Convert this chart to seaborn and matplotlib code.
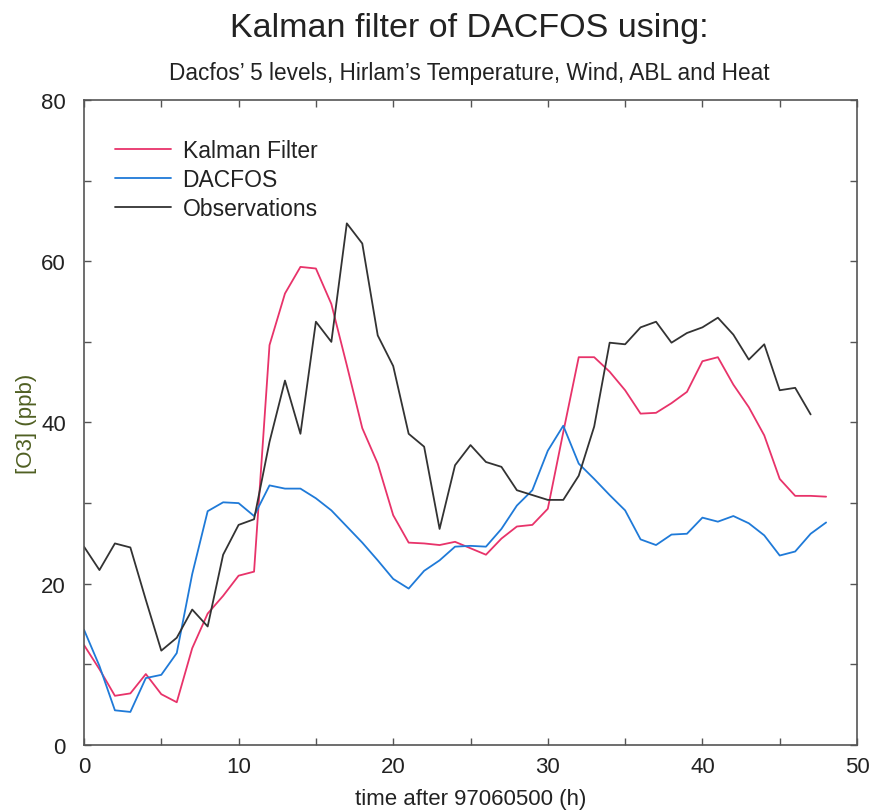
import numpy as np
import pandas as pd
import matplotlib
matplotlib.use("Agg")
import matplotlib.pyplot as plt
from matplotlib.ticker import MultipleLocator
import seaborn as sns

# Hourly ozone series (ppb), hours after 97060500
hours = list(range(49))

kalman = [12.4, 9.4, 6.1, 6.4, 8.8, 6.3, 5.3, 12.0, 16.3, 18.5,
          21.0, 21.5, 49.6, 56.0, 59.3, 59.1, 54.7, 47.1, 39.3, 34.9,
          28.5, 25.1, 25.0, 24.8, 25.2, 24.4, 23.6, 25.6, 27.1, 27.3,
          29.3, 38.8, 48.1, 48.1, 46.3, 44.0, 41.1, 41.2, 42.4, 43.8,
          47.6, 48.1, 44.7, 41.9, 38.4, 33.0, 30.9, 30.9, 30.8]

dacfos = [14.3, 9.8, 4.3, 4.1, 8.3, 8.7, 11.4, 21.2, 29.0, 30.1,
          30.0, 28.4, 32.2, 31.8, 31.8, 30.6, 29.1, 27.1, 25.1, 22.9,
          20.6, 19.4, 21.6, 22.9, 24.6, 24.7, 24.6, 26.8, 29.7, 31.6,
          36.5, 39.6, 34.9, 33.0, 31.0, 29.1, 25.5, 24.8, 26.1, 26.2,
          28.2, 27.7, 28.4, 27.5, 26.0, 23.5, 24.0, 26.2, 27.6]

observations = [24.6, 21.7, 25.0, 24.5, 18.0, 11.7, 13.3, 16.8, 14.7, 23.6,
                27.3, 28.0, 37.6, 45.2, 38.6, 52.5, 50.0, 64.7, 62.2, 50.8,
                47.0, 38.6, 37.0, 26.8, 34.7, 37.2, 35.1, 34.5, 31.6, 31.0,
                30.4, 30.4, 33.4, 39.5, 49.9, 49.7, 51.8, 52.5, 49.9, 51.1,
                51.8, 53.0, 50.9, 47.8, 49.7, 44.0, 44.3, 41.0]

series_names = ["Kalman Filter", "DACFOS", "Observations"]
series_colors = ["#e8336a", "#1f7ad8", "#333333"]

frames = []
for name, vals in zip(series_names, [kalman, dacfos, observations]):
    frames.append(pd.DataFrame({"hour": hours[:len(vals)], "o3": vals,
                                "series": name}))
df = pd.concat(frames, ignore_index=True)

sns.set_theme(style="ticks")
plt.rcParams["font.family"] = ["Liberation Sans", "DejaVu Sans"]

fig = plt.figure(figsize=(8.73, 8.12), dpi=100)
ax = fig.add_axes([0.0962, 0.0813, 0.8855, 0.7943])

sns.lineplot(data=df, x="hour", y="o3", hue="series",
             hue_order=series_names, palette=series_colors,
             linewidth=1.3, ax=ax, legend=True)

ax.set_xlim(0, 50)
ax.set_ylim(0, 80)
ax.xaxis.set_major_locator(MultipleLocator(10))
ax.xaxis.set_minor_locator(MultipleLocator(5))
ax.yaxis.set_major_locator(MultipleLocator(20))
ax.yaxis.set_minor_locator(MultipleLocator(10))
ax.tick_params(which="both", direction="in", top=True, right=True,
               length=5, width=1.0, color="#555555",
               labelsize=16, labelcolor="#222222")
ax.tick_params(axis="x", pad=8)
ax.tick_params(axis="y", pad=13)

for sp in ax.spines.values():
    sp.set_color("#555555")
    sp.set_linewidth(1.2)

ax.set_xlabel("time after 97060500 (h)", fontsize=16, color="#222222",
              labelpad=8)
ax.set_ylabel("[O3] (ppb)", fontsize=16, color="#4f5f22", labelpad=3)

leg = ax.legend(loc="upper left", bbox_to_anchor=(0.04, 0.939),
                frameon=False, fontsize=16.5, handlelength=2.45,
                handletextpad=0.5, labelspacing=0.25, borderpad=0,
                borderaxespad=0)
for line in leg.get_lines():
    line.set_linewidth(1.3)
for t in leg.get_texts():
    t.set_color("#222222")

fig.text(0.538, 0.965, "Kalman filter of DACFOS using:", ha="center",
         va="center", fontsize=24.5, color="#222222")
fig.text(0.538, 0.910,
         "Dacfos\u2019 5 levels, Hirlam\u2019s Temperature, Wind, ABL and Heat",
         ha="center", va="center", fontsize=16.3, color="#222222")

fig.savefig("out.png", dpi=100)
